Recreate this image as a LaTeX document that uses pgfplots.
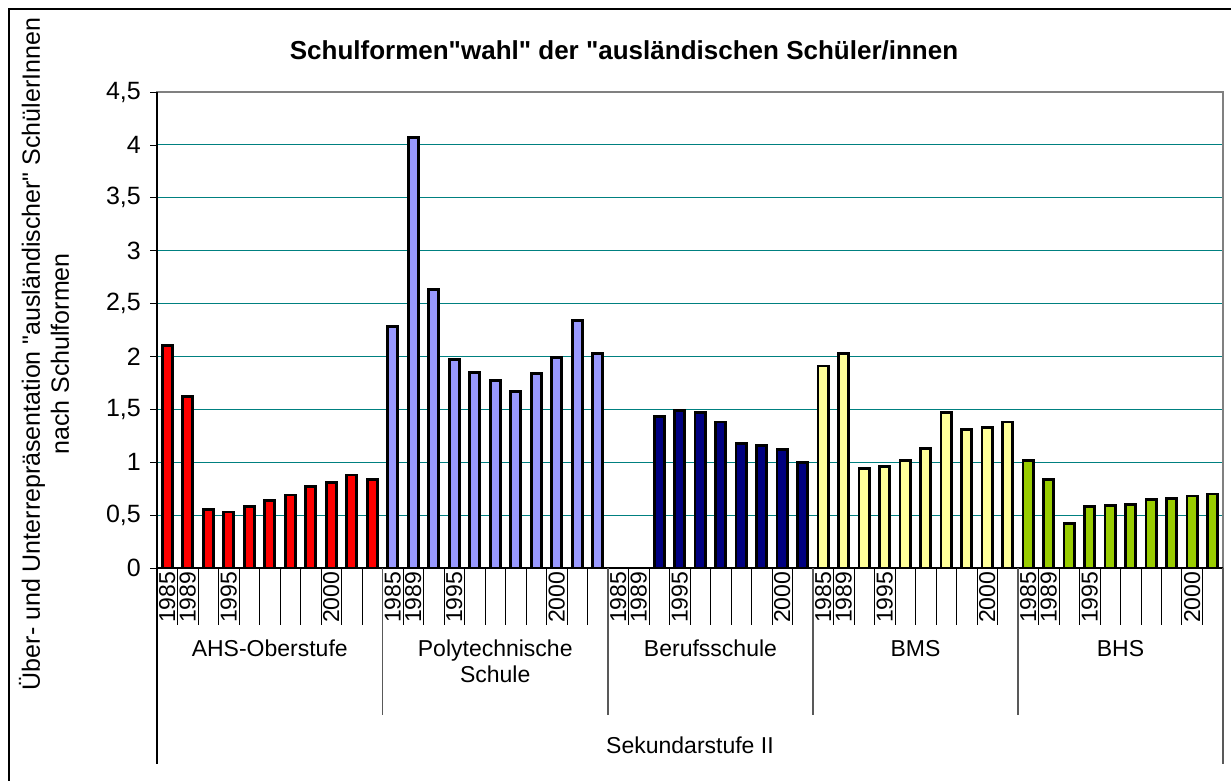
\documentclass[border=0pt]{standalone}
\usepackage{fontspec}
\setmainfont{Liberation Sans}[Ligatures=TeXOff]
\usepackage{pgfplots}
\pgfplotsset{compat=1.18}
\definecolor{cRed}{HTML}{FF0000}
\definecolor{cPeri}{HTML}{9999FF}
\definecolor{cNavy}{HTML}{000080}
\definecolor{cYel}{HTML}{FFFF99}
\definecolor{cGreen}{HTML}{99CC00}
\definecolor{cTeal}{HTML}{008080}
\newcommand{\lblfont}{\fontsize{23}{27}\selectfont}
\newcommand{\tickfont}{\fontsize{25}{29}\selectfont}
\begin{document}
\begin{tikzpicture}[x=1pt,y=1pt]
\path[use as bounding box] (0,0) rectangle (1231,-780);
\draw[line width=1.3pt] (9,-800) -- (9,-9) -- (1250,-9);
\node[font=\bfseries\fontsize{26}{30}\selectfont, anchor=base] at (624,-59) {Schulformen"wahl" der "ausländischen Schüler/innen};
\node[rotate=90, align=center, font=\fontsize{25}{29}\selectfont, inner sep=0pt] at (44,-354) {Über- und Unterrepräsentation "ausländischer" SchülerInnen\\nach Schulformen};
\begin{axis}[
  at={(157pt,-568pt)}, anchor=south west,
  width=1066pt, height=476pt, scale only axis,
  xmin=0.5, xmax=52.5, ymin=0, ymax=4.5,
  ybar, bar width=0.5,
  xtick=\empty,
  ytick={0,0.5,1,1.5,2,2.5,3,3.5,4,4.5},
  ytick pos=left,
  tick align=outside, major tick length=7pt,
  ytick style={black, line width=0.8pt},
  ymajorgrids, grid style={cTeal, line width=1pt},
  axis line style={draw=gray, line width=1.5pt},
  /pgf/number format/.cd, use comma, 1000 sep={}, assume math mode=true,
  /pgfplots/.cd,
  yticklabel style={font=\tickfont, inner sep=0pt, xshift=-9pt},
  clip=false,
  every axis plot/.append style={draw=black, line width=2.8pt, bar shift=0pt},
]
\addplot[fill=cRed] coordinates {(1,2.10) (2,1.62) (3,0.55) (4,0.53) (5,0.58) (6,0.64) (7,0.69) (8,0.77) (9,0.81) (10,0.88) (11,0.84)};
\addplot[fill=cPeri] coordinates {(12,2.28) (13,4.07) (14,2.63) (15,1.97) (16,1.85) (17,1.77) (18,1.67) (19,1.84) (20,1.99) (21,2.34) (22,2.03)};
\addplot[fill=cNavy] coordinates {(25,1.43) (26,1.49) (27,1.47) (28,1.38) (29,1.18) (30,1.16) (31,1.12) (32,1.00)};
\addplot[fill=cYel] coordinates {(33,1.91) (34,2.03) (35,0.94) (36,0.96) (37,1.02) (38,1.13) (39,1.47) (40,1.31) (41,1.33) (42,1.38)};
\addplot[fill=cGreen] coordinates {(43,1.02) (44,0.84) (45,0.42) (46,0.58) (47,0.59) (48,0.60) (49,0.65) (50,0.66) (51,0.68) (52,0.70)};
% axis left and bottom in black
\draw[black, line width=1.2pt] (rel axis cs:0,1) -- (rel axis cs:0,0) -- (rel axis cs:1,0);
% slot separators
\pgfplotsinvokeforeach{1.5,2.5,...,10.5,12.5,13.5,...,21.5,23.5,24.5,...,31.5,33.5,34.5,...,41.5,43.5,44.5,...,51.5}{
  \draw[black, line width=0.9pt] (axis cs:#1,0) -- ++(0pt,-57pt);
}
\pgfplotsinvokeforeach{11.5,22.5,32.5,42.5}{
  \draw[gray!70!black, line width=1.2pt] (axis cs:#1,0) -- ++(0pt,-147pt);
}
\draw[black, line width=1.2pt] (axis cs:0.5,0) -- ++(0pt,-196pt);
\draw[gray!70!black, line width=1.2pt] (axis cs:52.5,0) -- ++(0pt,-196pt);
% year labels
\pgfplotsinvokeforeach{1.5,12.5,23.5,33.5,43.5}{
  \node[rotate=90, anchor=south west, inner sep=0pt, font=\lblfont] at ([xshift=-2pt,yshift=-55pt]axis cs:#1,0) {1985};
}
\pgfplotsinvokeforeach{2.5,13.5,24.5,34.5,44.5}{
  \node[rotate=90, anchor=south west, inner sep=0pt, font=\lblfont] at ([xshift=-2pt,yshift=-55pt]axis cs:#1,0) {1989};
}
\pgfplotsinvokeforeach{4.5,15.5,26.5,36.5,46.5}{
  \node[rotate=90, anchor=south west, inner sep=0pt, font=\lblfont] at ([xshift=-2pt,yshift=-55pt]axis cs:#1,0) {1995};
}
\pgfplotsinvokeforeach{9.5,20.5,31.5,41.5,51.5}{
  \node[rotate=90, anchor=south west, inner sep=0pt, font=\lblfont] at ([xshift=-2pt,yshift=-55pt]axis cs:#1,0) {2000};
}
% group labels
\node[anchor=base, font=\lblfont] at ([yshift=-88pt]axis cs:6,0) {AHS-Oberstufe};
\node[anchor=base, font=\lblfont] at ([yshift=-88pt]axis cs:17,0) {Polytechnische};
\node[anchor=base, font=\lblfont] at ([yshift=-114pt]axis cs:17,0) {Schule};
\node[anchor=base, font=\lblfont] at ([yshift=-88pt]axis cs:27.5,0) {Berufsschule};
\node[anchor=base, font=\lblfont] at ([yshift=-88pt]axis cs:37.5,0) {BMS};
\node[anchor=base, font=\lblfont] at ([yshift=-88pt]axis cs:47.5,0) {BHS};
\node[anchor=base, font=\lblfont] at ([yshift=-185pt]axis cs:26.5,0) {Sekundarstufe II};
\end{axis}
\end{tikzpicture}
\end{document}
